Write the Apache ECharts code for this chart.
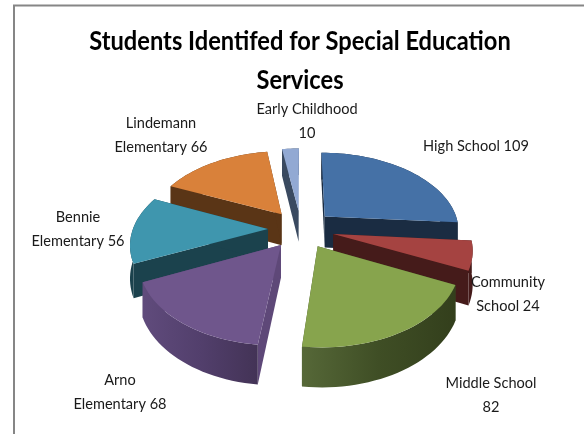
<!DOCTYPE html>
<html>
<head>
<meta charset="utf-8">
<style>html,body{margin:0;padding:0;background:#fff}#chart{width:584px;height:434px}</style>
<script src="https://cdn.jsdelivr.net/npm/echarts@6/dist/echarts.min.js"></script>
</head>
<body>
<div id="chart"></div>
<script>
// Enrollment counts per school
const categories = ['High School', 'Community School', 'Middle School', 'Arno Elementary', 'Bennie Elementary', 'Lindemann Elementary', 'Early Childhood'];
const values = [109, 24, 82, 68, 56, 66, 10];
// Text wrapping of each slice label: the line break position inside "name value"
const labelBreakAfterWord = [null, 1, 2, 1, 1, 1, 2];
const chartTitle = 'Students Identifed for Special Education\nServices';

// Slice appearance
const topColors = ['#4571a6', '#a54341', '#87a44d', '#6f568c', '#3f96ae', '#d9813a', '#92a9d3'];
const wallColors = ['#1a2c42', '#451b1a', '#3d4b23', '#5e4878', '#1b424d', '#5a3516', '#3a4a60'];
const rimStops = [null, null, ['#566838', '#3f4e25', '#333f1c'], ['#604b7c', '#523f6c', '#433356'], null, null, null];
const labelAnchors = [[476, 146], [508, 294], [491, 395], [120, 392], [78, 229], [161, 135], [307, 121]];
const paintOrder = [6, 0, 5, 4, 1, 2, 3];

// Projection of the tilted, exploded pie
const view = { cx: 301, cy: 229, radius: 135, depth: 78, persp: 0.165, explode: 0.245, thickness: 32 };

function project(x, z, drop) {
  const w = 1 / (1 - view.persp * z);
  return [view.cx + x * view.radius * w, view.cy + z * view.depth * w + (drop ? view.thickness * w : 0)];
}

const total = values.reduce((a, b) => a + b, 0);
const sweeps = [];
values.reduce((acc, v) => { const next = acc + v / total * Math.PI * 2; sweeps.push([acc, next]); return next; }, 0);

function renderSlice(params) {
  const i = params.dataIndex;
  const [a0, a1] = sweeps[i];
  const mid = (a0 + a1) / 2;
  const ox = Math.sin(mid) * view.explode;
  const oz = -Math.cos(mid) * view.explode;
  const rim = [];
  const steps = Math.max(6, Math.round((a1 - a0) / 0.04));
  for (let s = 0; s <= steps; s++) {
    const a = a0 + (a1 - a0) * s / steps;
    rim.push([ox + Math.sin(a), oz - Math.cos(a)]);
  }
  const apex = [ox, oz];
  const top = p => project(p[0], p[1], false);
  const low = p => project(p[0], p[1], true);
  const z2 = paintOrder.indexOf(i) * 10;
  const wall = (pts, fill, z) => ({ type: 'polygon', shape: { points: pts }, style: { fill }, z2: z2 + z, silent: true });

  const first = rim[0], last = rim[rim.length - 1];
  const wallA = wall([top(apex), top(first), low(first), low(apex)], wallColors[i], 1);
  const wallB = wall([top(apex), top(last), low(last), low(apex)], wallColors[i], 1);

  const rimPts = rim.map(top).concat(rim.slice().reverse().map(low));
  let rimFill = wallColors[i];
  if (rimStops[i]) {
    const xs = rimPts.map(p => p[0]);
    const stops = rimStops[i];
    rimFill = {
      type: 'linear', global: true, x: Math.min(...xs), y: 0, x2: Math.max(...xs), y2: 0,
      colorStops: stops.map((c, k) => ({ offset: k / (stops.length - 1), color: c }))
    };
  }
  const rimWall = wall(rimPts, rimFill, 2);
  const face = wall([top(apex)].concat(rim.map(top)), topColors[i], 3);
  return { type: 'group', children: [wallA, wallB, rimWall, face] };
}

function labelText(i) {
  const words = (categories[i] + ' ' + values[i]).split(' ');
  const n = labelBreakAfterWord[i];
  if (n === null) return words.join(' ');
  return words.slice(0, n).join(' ') + '\n' + words.slice(n).join(' ');
}

const labelFont = 'Lato, "Open Sans", sans-serif';
const narrow = 0.91;
const chart = echarts.init(document.getElementById('chart'), null, { renderer: 'canvas' });
chart.setOption({
  animation: false,
  backgroundColor: '#ffffff',
  series: [{
    type: 'custom',
    coordinateSystem: 'none',
    silent: true,
    renderItem: renderSlice,
    data: categories.map((name, i) => ({ name, value: values[i] }))
  }],
  graphic: {
    elements: [
      { type: 'polyline', shape: { points: [[14, 434], [14, 5.5], [584, 5.5]] }, style: { stroke: '#868686', lineWidth: 2, fill: null }, silent: true, z: -1 },
      {
        type: 'text', x: 300, y: 61, scaleX: narrow, silent: true, z: 10,
        style: {
          text: chartTitle, fontFamily: labelFont, fontWeight: 'bold', fontSize: 26, lineHeight: 39,
          fill: '#000000', align: 'center', verticalAlign: 'middle'
        }
      },
      ...categories.map((c, i) => ({
        type: 'text', x: labelAnchors[i][0], y: labelAnchors[i][1], scaleX: narrow, silent: true, z: 10,
        style: {
          text: labelText(i), fontFamily: labelFont, fontSize: 16, lineHeight: 24,
          fill: '#1a1a1a', align: 'center', verticalAlign: 'middle'
        }
      }))
    ]
  }
});
</script>
</body>
</html>
